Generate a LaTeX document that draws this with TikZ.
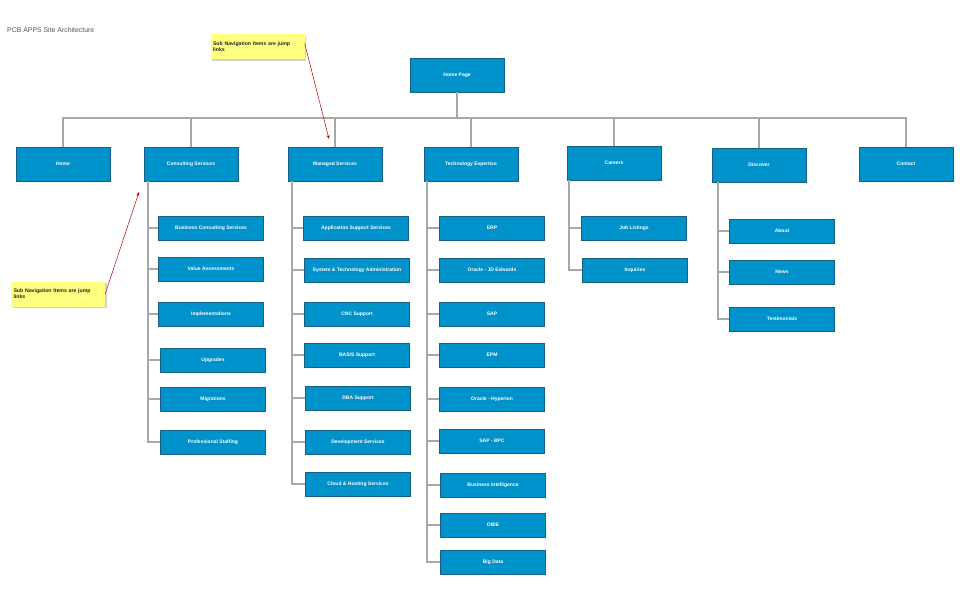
\documentclass[tikz,border=0pt]{standalone}
\usepackage{fontspec}
\setmainfont{Liberation Sans}
\usetikzlibrary{arrows.meta}
\definecolor{boxblue}{RGB}{0,146,202}
\definecolor{boxedge}{RGB}{24,96,130}
\definecolor{linegray}{RGB}{168,168,168}
\definecolor{noteyellow}{RGB}{255,255,128}
\definecolor{titlegray}{RGB}{85,85,85}
\tikzset{
  pagebox/.style={rectangle, fill=boxblue, draw=boxedge, line width=0.8pt,
    minimum width=94, minimum height=34, inner sep=0pt,
    text=white, font=\fontsize{5}{6}\selectfont\bfseries},
  subbox/.style={pagebox, minimum width=105, minimum height=24},
  conn/.style={draw=linegray, line width=1.4pt},
  notebox/.style={rectangle, fill=noteyellow, minimum width=94, minimum height=25,
    inner sep=2.5pt, text width=89, align=left,
    font=\fontsize{5.2}{6}\selectfont\bfseries, text=black!85},
  noteshadow/.style={rectangle, fill=black!18, minimum width=94, minimum height=25},
  callout/.style={draw=red!75!black, line width=0.5pt, -{Stealth[length=4pt,width=3pt]}}
}
\begin{document}
\begin{tikzpicture}[x=1pt,y=-1pt]
\useasboundingbox[fill=white] (0,0) rectangle (960,605);

% title
\node[anchor=west, inner sep=0pt, text=titlegray, font=\fontsize{6.9}{8}\selectfont] (title) at (7,30) {PCB APPS Site Architecture};

% root and first level
\node[pagebox] (hp) at (457,75) {Home Page};
\node[pagebox] (home) at (63,164) {Home};
\node[pagebox] (cs) at (191,164) {Consulting Services};
\node[pagebox] (ms) at (335,164) {Managed Services};
\node[pagebox] (te) at (471,164) {Technology Expertise};
\node[pagebox] (car) at (614,163) {Careers};
\node[pagebox] (dis) at (759,165) {Discover};
\node[pagebox] (ctc) at (906,164) {Contact};

% horizontal bus under the home page
\coordinate (bus) at (0,118);
\draw[conn] (hp.south) -- (hp.south|-bus);
\draw[conn] (home.north) -- (home.north|-bus) -- (ctc.north|-bus) -- (ctc.north);
\foreach \n in {cs,ms,te,car,dis}
  \draw[conn] (\n.north) -- (\n.north|-bus);

% Consulting Services
\node[subbox] (bcs) at (211,228) {Business Consulting Services};
\node[subbox] (va)  at (211,269) {Value Assessments};
\node[subbox] (imp) at (211,314) {Implementations};
\node[subbox] (upg) at (213,360) {Upgrades};
\node[subbox] (mig) at (213,399) {Migrations};
\node[subbox] (ps)  at (213,442) {Professional Staffing};
\coordinate (csT) at (148,181);
\foreach \n in {bcs,va,imp,upg,mig,ps}
  \draw[conn] (csT) |- (\n.west);

% Managed Services
\node[subbox] (ass) at (356,228) {Application Support Services};
\node[subbox] (sta) at (357,270) {System \& Technology Administration};
\node[subbox] (cnc) at (357,314) {CNC Support};
\node[subbox] (bas) at (357,355) {BASIS Support};
\node[subbox] (dba) at (358,398) {DBA Support};
\node[subbox] (dev) at (358,442) {Development Services};
\node[subbox] (clo) at (358,484) {Cloud \& Hosting Services};
\coordinate (msT) at (292,181);
\foreach \n in {ass,sta,cnc,bas,dba,dev,clo}
  \draw[conn] (msT) |- (\n.west);

% Technology Expertise
\node[subbox] (erp) at (492,228) {ERP};
\node[subbox] (ojd) at (492,270) {Oracle - JD Edwards};
\node[subbox] (sap) at (492,314) {SAP};
\node[subbox] (epm) at (492,355) {EPM};
\node[subbox] (ohy) at (492,399) {Oracle - Hyperion};
\node[subbox] (bpc) at (492,441) {SAP - BPC};
\node[subbox] (bi)  at (493,485) {Business Intelligence};
\node[subbox] (obi) at (493,525) {OBIE};
\node[subbox] (bd)  at (493,562) {Big Data};
\coordinate (teT) at (427,181);
\foreach \n in {erp,ojd,sap,epm,ohy,bpc,bi,obi,bd}
  \draw[conn] (teT) |- (\n.west);

% Careers
\node[subbox] (job) at (634,228) {Job Listings};
\node[subbox] (inq) at (635,270) {Inquiries};
\coordinate (carT) at (569,180);
\foreach \n in {job,inq}
  \draw[conn] (carT) |- (\n.west);

% Discover
\node[subbox] (abt) at (782,231) {About};
\node[subbox] (nws) at (782,272) {News};
\node[subbox] (tst) at (782,319) {Testimonials};
\coordinate (disT) at (718,182);
\foreach \n in {abt,nws,tst}
  \draw[conn] (disT) |- (\n.west);

% sticky notes with callout arrows
\node[noteshadow] at (259,48) {};
\node[notebox] (n1) at (257.5,46.5) {Sub Navigation Items are jump links};
\node[noteshadow] at (59.5,295.5) {};
\node[notebox] (n2) at (58,294) {Sub Navigation Items are jump links};
\coordinate (t1) at (329,139);
\coordinate (t2) at (139,192);
\draw[callout] (n1.east) ++(0,-3) -- (t1);
\draw[callout] (n2.east) -- (t2);
\end{tikzpicture}
\end{document}
